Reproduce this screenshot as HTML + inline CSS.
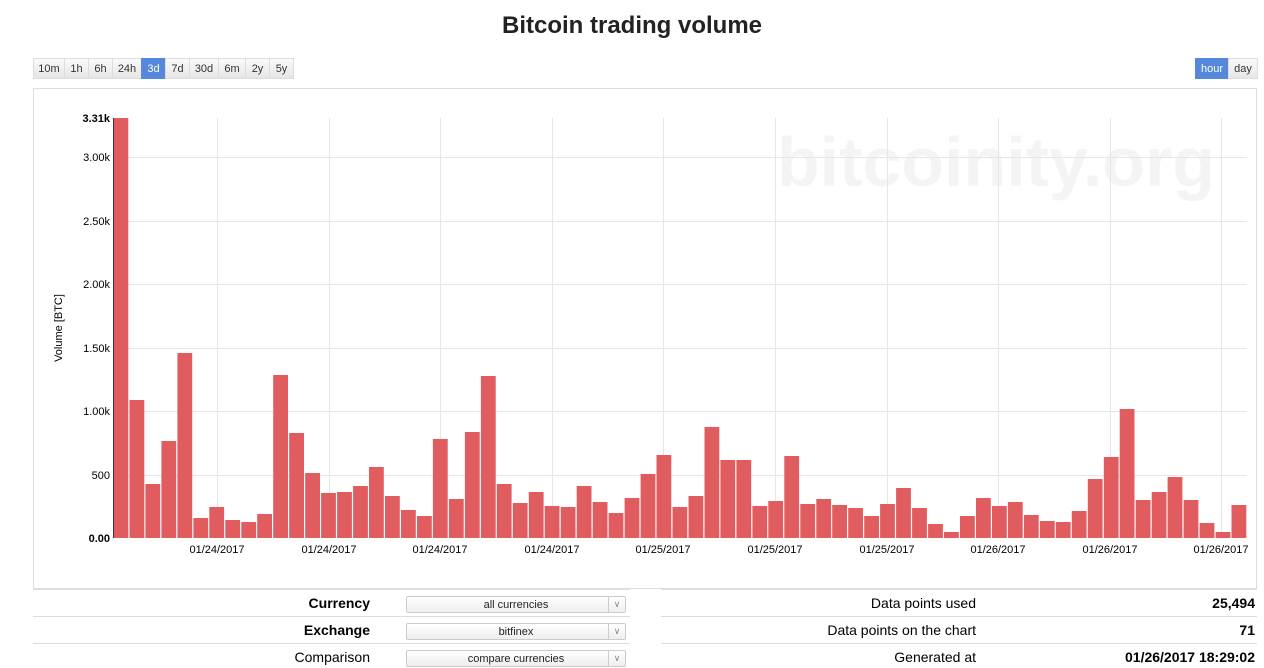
<!DOCTYPE html>
<html><head><style>
body{margin:0;width:1264px;height:659px;overflow:hidden;background:#fff;font-family:"Liberation Sans",sans-serif;position:relative}
.a{position:absolute}
.btn{position:absolute;top:58px;height:21px;line-height:21px;font-size:11px;color:#333;text-align:center;background:linear-gradient(#fafafa,#e6e6e6);border:1px solid #ddd;box-sizing:border-box}
.sel{position:absolute;height:17px;border:1px solid #ccc;border-radius:2px;background:linear-gradient(#fff,#eee);font-size:11px;text-align:center;line-height:17px;color:#222;box-sizing:border-box}
.sel i{position:absolute;right:0;top:0;width:16px;height:15px;border-left:1px solid #ccc;font-style:normal;color:#888;font-size:9px;line-height:15px}
.lbl{position:absolute;font-size:14px;text-align:right}
.hl{position:absolute;height:1px;background:#ddd}
</style></head><body>
<div class="a" style="left:0;width:1264px;top:12px;text-align:center;font-size:24px;font-weight:bold;color:#222">Bitcoin trading volume</div>
<div class="btn" style="left:33px;width:32px">10m</div>
<div class="btn" style="left:64px;width:25px">1h</div>
<div class="btn" style="left:88px;width:25px">6h</div>
<div class="btn" style="left:112px;width:30px">24h</div>
<div class="btn" style="left:141px;width:25px;background:#5588dd;color:#fff;border-color:#5588dd">3d</div>
<div class="btn" style="left:165px;width:25px">7d</div>
<div class="btn" style="left:189px;width:30px">30d</div>
<div class="btn" style="left:218px;width:28px">6m</div>
<div class="btn" style="left:245px;width:25px">2y</div>
<div class="btn" style="left:269px;width:25px">5y</div>
<div class="btn" style="left:1195px;width:34px;background:#5588dd;color:#fff;border-color:#5588dd">hour</div>
<div class="btn" style="left:1228px;width:30px">day</div>
<div class="a" style="left:33px;top:88px;width:1224px;height:501px;border:1px solid #ddd;box-sizing:border-box"></div>
<svg class="a" style="left:0;top:0" width="1264" height="600" id="s"></svg>
<div class="hl" style="left:33px;top:589px;width:597px"></div>
<div class="hl" style="left:33px;top:616px;width:597px"></div>
<div class="hl" style="left:33px;top:643px;width:597px"></div>
<div class="hl" style="left:661px;top:589px;width:596px"></div>
<div class="hl" style="left:661px;top:616px;width:596px"></div>
<div class="hl" style="left:661px;top:643px;width:596px"></div>
<div class="lbl" style="right:894px;top:595px;font-weight:bold">Currency</div>
<div class="lbl" style="right:894px;top:622px;font-weight:bold">Exchange</div>
<div class="lbl" style="right:894px;top:649px">Comparison</div>
<div class="sel" style="left:406px;top:596px;width:220px">all currencies<i>&#8744;</i></div>
<div class="sel" style="left:406px;top:623px;width:220px">bitfinex<i>&#8744;</i></div>
<div class="sel" style="left:406px;top:650px;width:220px">compare currencies<i>&#8744;</i></div>
<div class="lbl" style="right:288px;top:595px">Data points used</div>
<div class="lbl" style="right:288px;top:622px">Data points on the chart</div>
<div class="lbl" style="right:288px;top:649px">Generated at</div>
<div class="lbl" style="right:9px;top:595px;font-weight:bold">25,494</div>
<div class="lbl" style="right:9px;top:622px;font-weight:bold">71</div>
<div class="lbl" style="right:9px;top:649px;font-weight:bold">01/26/2017 18:29:02</div>
<script>
var t=[118,400,484,441,353,518,507,520,522,514,375,433,473,493,492,486,467,496,510,516,439,499,432,376,484,503,492,506,507,486,502,513,498,474,455,507,496,427,460,460,506,501,456,504,499,505,508,516,504,488,508,524,532,516,498,506,502,515,521,522,511,479,457,409,500,492,477,500,523,532,505];
var s='';
s+='<text x="1215" y="186" text-anchor="end" font-size="70" font-weight="bold" fill="#f4f4f4" font-family="Liberation Sans">bitcoinity.org</text>';
var yl=[[538,'0.00'],[475,'500'],[411,'1.00k'],[348,'1.50k'],[284,'2.00k'],[221,'2.50k'],[157,'3.00k'],[118,'3.31k']];
yl.forEach(function(a){if(a[1]!='3.31k'&&a[1]!='0.00')s+='<line x1="113" x2="1247" y1="'+a[0]+'.5" y2="'+a[0]+'.5" stroke="#e6e6e6"/>';
s+='<text x="110" y="'+(a[0]+4)+'" text-anchor="end" font-size="11" font-family="Liberation Sans" font-weight="'+(a[1]=='3.31k'||a[1]=='0.00'?'bold':'normal')+'">'+a[1]+'</text>';});
var xs=[217,329,440,552,663,775,887,998,1110,1221];
var lb=['01/24/2017','01/24/2017','01/24/2017','01/24/2017','01/25/2017','01/25/2017','01/25/2017','01/26/2017','01/26/2017','01/26/2017'];
xs.forEach(function(x,i){s+='<line x1="'+x+'.5" x2="'+x+'.5" y1="118" y2="538" stroke="#e6e6e6"/>';s+='<text x="'+x+'" y="553" text-anchor="middle" font-size="11" font-family="Liberation Sans">'+lb[i]+'</text>';});
var w=(1247-113)/71;
t.forEach(function(y,i){s+='<rect x="'+(113.5+i*w).toFixed(1)+'" y="'+y+'" width="'+(w-1.2).toFixed(1)+'" height="'+(538-y)+'" fill="#e05c5f"/>';});
s+='<line x1="113.5" x2="113.5" y1="118" y2="538" stroke="#333"/>';
s+='<text transform="translate(62,328) rotate(-90)" text-anchor="middle" font-size="11" font-family="Liberation Sans">Volume [BTC]</text>';
document.getElementById('s').innerHTML=s;
</script>
</body></html>
